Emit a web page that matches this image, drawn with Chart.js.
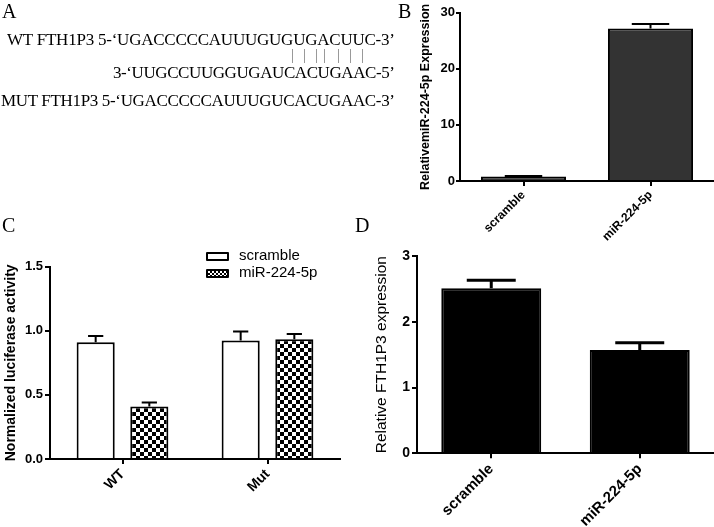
<!DOCTYPE html>
<html>
<head>
<meta charset="utf-8">
<script src="https://cdn.jsdelivr.net/npm/chart.js@4.4.1/dist/chart.umd.min.js"></script>
<style>
  body { margin: 0; background: #fff; }
  #fig { position: relative; width: 714px; height: 527px; overflow: hidden; background: #fff; }
  #fig canvas { position: absolute; }
  #legendC { position: absolute; left: 206px; top: 246px; font: 15px "Liberation Sans", Arial, sans-serif; color: #000; }
  #legendC .row { height: 17px; line-height: 17px; white-space: nowrap; }
  #legendC .sw { display: inline-block; box-sizing: border-box; width: 23px; height: 9px; border: 2px solid #000; border-radius: 1px; margin-right: 10px; vertical-align: -1px; background: #fff; }
  #legendC .sw.chk { background-image: repeating-conic-gradient(#000 0 25%, #fff 0 50%); background-size: 4px 4px; }
</style>
</head>
<body>
<div id="fig">
  <canvas id="chartB" width="314" height="260" style="left:400px;top:0"></canvas>
  <canvas id="chartC" width="360" height="287" style="left:0;top:240px"></canvas>
  <canvas id="chartD" width="354" height="287" style="left:360px;top:240px"></canvas>
  <div id="legendC"></div>
  <svg width="714" height="527" style="position:absolute;left:0;top:0" font-family="Liberation Serif, Times New Roman, serif" fill="#000">
    <text x="2" y="18" font-size="20">A</text>
    <text x="398" y="18" font-size="20">B</text>
    <text x="2" y="232" font-size="20">C</text>
    <text x="355" y="232" font-size="20">D</text>
    <text x="7" y="45" font-size="17" textLength="388">WT FTH1P3 5-‘UGACCCCCAUUUGUGUGACUUC-3’</text>
    <g stroke="#999" stroke-width="1">
      <line x1="292.5" y1="49" x2="292.5" y2="63"/>
      <line x1="304.5" y1="49" x2="304.5" y2="63"/>
      <line x1="316.5" y1="49" x2="316.5" y2="63"/>
      <line x1="324.5" y1="49" x2="324.5" y2="63"/>
      <line x1="338.5" y1="49" x2="338.5" y2="63"/>
      <line x1="350.5" y1="49" x2="350.5" y2="63"/>
      <line x1="362.5" y1="49" x2="362.5" y2="63"/>
    </g>
    <text x="113" y="78" font-size="17" textLength="282">3-‘UUGCCUUGGUGAUCACUGAAC-5’</text>
    <text x="1" y="106" font-size="17" textLength="394">MUT FTH1P3 5-‘UGACCCCCAUUUGUCACUGAAC-3’</text>
  </svg>
</div>
<script>
// panel B
const groupsB = ['scramble', 'miR-224-5p'];
const valuesB = [0.8, 27.2];
const errorsB = [0.1, 0.8];
const yTicksB = [0, 10, 20, 30];

// panel C
const groupsC = ['WT', 'Mut'];
const seriesC = ['scramble', 'miR-224-5p'];
const scrambleC = [0.91, 0.925];
const scrambleErrC = [0.05, 0.07];
const mirC = [0.41, 0.935];
const mirErrC = [0.03, 0.04];
const yTicksC = [0, 0.5, 1.0, 1.5];

// panel D
const groupsD = ['scramble', 'miR-224-5p'];
const valuesD = [2.51, 1.57];
const errorsD = [0.12, 0.11];
const yTicksD = [0, 1, 2, 3];

const FONT = '"Liberation Sans", Arial, sans-serif';

// upper error bars (mean + SEM) drawn on top of each bar
const errorBars = {
  id: 'errorBars',
  afterDatasetsDraw(chart, args, opts) {
    const ctx = chart.ctx;
    const y = chart.scales.y;
    chart.data.datasets.forEach((ds, i) => {
      if (!ds.errors) return;
      chart.getDatasetMeta(i).data.forEach((bar, j) => {
        const top = y.getPixelForValue(ds.data[j] + ds.errors[j]);
        const half = bar.width * opts.cap / 2;
        ctx.save();
        ctx.strokeStyle = '#000';
        ctx.lineWidth = opts.width;
        ctx.beginPath();
        ctx.moveTo(bar.x, bar.y);
        ctx.lineTo(bar.x, top);
        ctx.moveTo(bar.x - half, top);
        ctx.lineTo(bar.x + half, top);
        ctx.stroke();
        ctx.restore();
      });
    });
  }
};

function checker() {
  const c = document.createElement('canvas');
  c.width = 8; c.height = 8;
  const g = c.getContext('2d');
  g.fillStyle = '#fff'; g.fillRect(0, 0, 8, 8);
  g.fillStyle = '#000'; g.fillRect(0, 0, 4, 4); g.fillRect(4, 4, 4, 4);
  return g.createPattern(c, 'repeat');
}

function makeChart(id, labels, datasets, o) {
  return new Chart(document.getElementById(id), {
    type: 'bar',
    data: { labels: labels, datasets: datasets },
    plugins: [errorBars],
    options: {
      responsive: false,
      animation: false,
      devicePixelRatio: 1,
      layout: { padding: { top: o.top, right: o.right, left: 0, bottom: 0 } },
      plugins: {
        legend: { display: false },
        tooltip: { enabled: false },
        errorBars: { cap: o.cap, width: o.errWidth }
      },
      datasets: { bar: { categoryPercentage: o.catPct, barPercentage: o.barPct } },
      scales: {
        x: {
          grid: { offset: false, drawOnChartArea: false, color: '#000', lineWidth: 2, tickLength: 5 },
          border: { color: '#000', width: 2 },
          ticks: {
            color: '#000', padding: 2, minRotation: 45, maxRotation: 45,
            font: { family: FONT, size: o.xFont, weight: 'bold' }
          },
          afterFit: s => { s.height = o.xHeight; }
        },
        y: {
          min: o.yTicks[0],
          max: o.yTicks[o.yTicks.length - 1],
          afterBuildTicks: s => { s.ticks = o.yTicks.map(v => ({ value: v })); },
          grid: { drawOnChartArea: false, color: '#000', lineWidth: 2, tickLength: o.tickLen },
          border: { color: '#000', width: 2 },
          ticks: {
            color: '#000', padding: o.tickPad,
            font: { family: FONT, size: o.yFont, weight: 'bold' },
            callback: o.fmt
          },
          title: {
            display: true, text: o.title, color: '#000',
            font: { family: FONT, size: o.titleSize, weight: o.titleWeight },
            padding: { top: o.titlePad, bottom: 0 }
          },
          afterFit: s => { s.width = o.yWidth; }
        }
      }
    }
  });
}

makeChart('chartB', groupsB, [
  { data: valuesB, errors: errorsB, backgroundColor: '#333', borderColor: '#000', borderWidth: 2 }
], {
  top: 12.7, right: 0, xHeight: 79, yWidth: 60, yTicks: yTicksB,
  catPct: 1, barPct: 0.67, cap: 0.44, errWidth: 2,
  xFont: 12, yFont: 13, tickLen: 4, tickPad: 1,
  title: 'RelativemiR-224-5p Expression', titleSize: 12.5, titleWeight: 'bold', titlePad: 18,
  fmt: v => v
});

makeChart('chartC', groupsC, [
  { label: seriesC[0], data: scrambleC, errors: scrambleErrC, backgroundColor: '#fff', borderColor: '#000', borderWidth: 2 },
  { label: seriesC[1], data: mirC, errors: mirErrC, backgroundColor: checker(), borderColor: '#000', borderWidth: 2 }
], {
  top: 26.7, right: 20, xHeight: 68, yWidth: 50, yTicks: yTicksC,
  catPct: 0.74, barPct: 0.71, cap: 0.4, errWidth: 2,
  xFont: 14, yFont: 13, tickLen: 5, tickPad: 2,
  title: 'Normalized luciferase activity', titleSize: 14, titleWeight: 'bold', titlePad: 3,
  fmt: v => Number(v).toFixed(1)
});

makeChart('chartD', groupsD, [
  { data: valuesD, errors: errorsD, backgroundColor: '#000', borderColor: '#000', borderWidth: 2 }
], {
  top: 16, right: 0, xHeight: 73.7, yWidth: 57, yTicks: yTicksD,
  catPct: 1, barPct: 0.673, cap: 0.49, errWidth: 3,
  xFont: 15, yFont: 14, tickLen: 5, tickPad: 2,
  title: 'Relative FTH1P3 expression', titleSize: 15.5, titleWeight: 'normal', titlePad: 12.5,
  fmt: v => v
});

// legend for panel C
const legend = document.getElementById('legendC');
seriesC.forEach((name, i) => {
  const row = document.createElement('div');
  row.className = 'row';
  const sw = document.createElement('span');
  sw.className = i === 0 ? 'sw' : 'sw chk';
  row.appendChild(sw);
  row.appendChild(document.createTextNode(name));
  legend.appendChild(row);
});
</script>
</body>
</html>
